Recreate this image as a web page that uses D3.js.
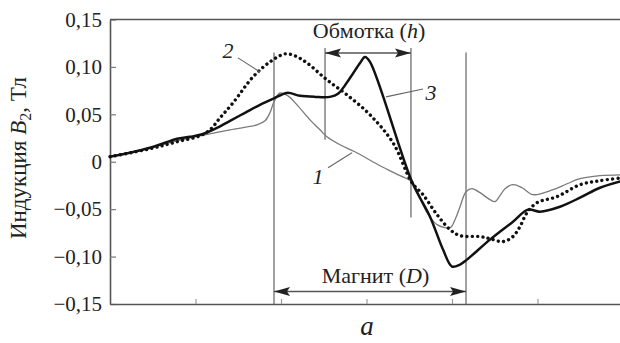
<!DOCTYPE html>
<html><head><meta charset="utf-8">
<script src="https://cdn.jsdelivr.net/npm/d3@7"></script>
<style>
body{margin:0;background:#fff}
svg{display:block;background:#fff}
</style></head>
<body><svg id="c" width="620" height="343"></svg>
<script>
// ---- data (x in tick units, y in Tesla) ----
const xCurve1 = [0,0.468,0.784,1.053,1.404,1.719,1.813,1.871,1.918,1.988,2.082,2.187,2.339,2.456,2.538,2.690,2.865,3.158,3.392,3.532,3.626,3.708,3.825,3.977,4.035,4.094,4.164,4.234,4.327,4.444,4.503,4.561,4.620,4.713,4.819,4.947,5.181,5.345,5.497,5.731,6.000];
const yCurve1 = [0.0053,0.0147,0.0221,0.0274,0.0337,0.0389,0.0432,0.0516,0.0632,0.0726,0.0695,0.0600,0.0442,0.0337,0.0263,0.0179,0.0105,-0.0042,-0.0147,-0.0211,-0.0379,-0.0537,-0.0663,-0.0695,-0.0611,-0.0474,-0.0316,-0.0284,-0.0326,-0.0400,-0.0421,-0.0358,-0.0284,-0.0242,-0.0274,-0.0347,-0.0295,-0.0232,-0.0179,-0.0147,-0.0137];

const xCurve2 = [0,0.468,0.784,1.053,1.170,1.287,1.439,1.673,1.871,2.047,2.164,2.304,2.538,2.772,3.041,3.310,3.532,3.661,3.825,3.977,4.094,4.327,4.444,4.596,4.713,4.795,4.877,4.994,5.228,5.497,5.731,6.000];
const yCurve2 = [0.0053,0.0137,0.0211,0.0274,0.0337,0.0463,0.0621,0.0895,0.1053,0.1137,0.1116,0.1042,0.0863,0.0705,0.0495,0.0200,-0.0221,-0.0347,-0.0558,-0.0716,-0.0779,-0.0789,-0.0811,-0.0842,-0.0789,-0.0684,-0.0537,-0.0432,-0.0368,-0.0242,-0.0200,-0.0168];

const xCurve3 = [0,0.234,0.468,0.643,0.784,0.936,1.053,1.228,1.404,1.579,1.754,1.906,2.070,2.222,2.398,2.573,2.667,2.807,2.924,2.982,3.041,3.532,3.743,3.895,4.000,4.094,4.175,4.444,4.713,4.889,5.029,5.263,5.497,5.731,6.000];
const yCurve3 = [0.0053,0.0095,0.0147,0.0200,0.0242,0.0263,0.0284,0.0347,0.0432,0.0516,0.0600,0.0663,0.0726,0.0695,0.0684,0.0684,0.0716,0.0884,0.1042,0.1105,0.1053,-0.0211,-0.0579,-0.0926,-0.1105,-0.1084,-0.1032,-0.0821,-0.0632,-0.0505,-0.0526,-0.0474,-0.0379,-0.0274,-0.0200];

const yTickValues = [0.15,0.10,0.05,0,-0.05,-0.10,-0.15];
const xTickValues = [1,2,3,4,5];

const magnetX = [1.918, 4.164];
const magnetTop = 0.1152;
const magnetArrowY = -0.1368;
const magnetLabel = "Магнит";
const windingX = [2.515, 3.520];
const windingTop = 0.12;
const windingBottom = [0.0232, -0.0589];
const windingArrowY = 0.1147;
const windingLabel = "Обмотка";

const curveLabels = ["1","2","3"];
const curveLabelPos = [[2.433,-0.0232],[1.380,0.1095],[3.754,0.0653]];
const leaderLines = [[[2.550,-0.0063],[2.830,0.0095]],[[1.497,0.1095],[1.754,0.0947]],[[3.228,0.0684],[3.661,0.0768]]];

// ---- chart ----
const SERIF = "Liberation Serif";
const svg = d3.select("#c");
const x = d3.scaleLinear().domain([0,6]).range([110,623]);
const y = d3.scaleLinear().domain([-0.15,0.15]).range([304,19.5]);

const fmt = v => v === 0 ? "0" : d3.format(".2f")(v).replace(".", ",");

// annotations: vertical lines
const vcol = "#8a8a8a";
magnetX.forEach(v => svg.append("line").attr("x1",x(v)).attr("x2",x(v)).attr("y1",y(magnetTop)).attr("y2",y(-0.15))
  .attr("stroke",vcol).attr("stroke-width",1.6));
windingX.forEach((v,i) => svg.append("line").attr("x1",x(v)).attr("x2",x(v)).attr("y1",y(windingTop)).attr("y2",y(windingBottom[i]))
  .attr("stroke",vcol).attr("stroke-width",1.6));

// axes
const yAxis = d3.axisLeft(y).tickValues(yTickValues).tickSize(-6).tickSizeOuter(0).tickPadding(8).tickFormat(fmt);
const gy = svg.append("g").attr("transform","translate(110,0)").call(yAxis).attr("font-family",SERIF);
gy.select(".domain").attr("stroke","#555").attr("stroke-width",1.6);
gy.selectAll(".tick line").attr("stroke","#777").attr("stroke-width",1.2);
gy.selectAll(".tick text").attr("font-size",21).attr("fill","#222").style("font-family",SERIF);

const xAxis = d3.axisBottom(x).tickValues(xTickValues).tickSize(-5).tickSizeOuter(0).tickFormat("");
const gx = svg.append("g").attr("transform","translate(0,304)").call(xAxis);
gx.select(".domain").attr("stroke","#555").attr("stroke-width",1.6);
gx.selectAll(".tick line").attr("stroke","#999").attr("stroke-width",1.2);

svg.append("line").attr("x1",x(0)).attr("x2",x(6)).attr("y1",y(0.15)).attr("y2",y(0.15))
  .attr("stroke","#555").attr("stroke-width",1.6);

// curves
const line = d3.line().x(d=>x(d[0])).y(d=>y(d[1])).curve(d3.curveCatmullRom.alpha(0.5));
const c1 = d3.zip(xCurve1,yCurve1), c2 = d3.zip(xCurve2,yCurve2), c3 = d3.zip(xCurve3,yCurve3);
svg.append("path").attr("d",line(c1)).attr("fill","none").attr("stroke","#7a7a7a").attr("stroke-width",1.3);
svg.append("path").attr("d",line(c2)).attr("fill","none").attr("stroke","#111").attr("stroke-width",3.4)
  .attr("stroke-linecap","round").attr("stroke-dasharray","0.01 5.3");
svg.append("path").attr("d",line(c3)).attr("fill","none").attr("stroke","#111").attr("stroke-width",2.5)
  .attr("stroke-linejoin","round");

// arrows
const defs = svg.append("defs");
defs.append("marker").attr("id","ah").attr("viewBox","0 -5 16 10").attr("refX",16).attr("refY",0)
  .attr("markerWidth",16).attr("markerHeight",10).attr("markerUnits","userSpaceOnUse").attr("orient","auto-start-reverse")
  .append("path").attr("d","M0,-4.5L16,0L0,4.5L3,0Z").attr("fill","#222");
svg.append("line").attr("x1",x(windingX[0])).attr("x2",x(windingX[1])).attr("y1",y(windingArrowY)).attr("y2",y(windingArrowY))
  .attr("stroke","#555").attr("stroke-width",1.3).attr("marker-start","url(#ah)").attr("marker-end","url(#ah)");
svg.append("line").attr("x1",x(magnetX[0])).attr("x2",x(magnetX[1])).attr("y1",y(magnetArrowY)).attr("y2",y(magnetArrowY))
  .attr("stroke","#555").attr("stroke-width",1.3).attr("marker-start","url(#ah)").attr("marker-end","url(#ah)");

// labels
function label(txt, sym, cx, by){
  const t = svg.append("text").attr("x",cx).attr("y",by).attr("text-anchor","middle").attr("font-size",22)
    .style("font-family",SERIF).attr("fill","#222");
  t.append("tspan").text(txt + " (");
  t.append("tspan").attr("font-style","italic").text(sym);
  t.append("tspan").text(")");
}
label(windingLabel, "h", x(3.03), y(0.1305));
label(magnetLabel, "D", x(3.105), y(-0.1274));

curveLabels.forEach((s,i)=>{
  svg.append("text").attr("x",x(curveLabelPos[i][0])).attr("y",y(curveLabelPos[i][1])).attr("text-anchor","middle")
    .attr("font-size",22).attr("font-style","italic").style("font-family",SERIF).attr("fill","#222").text(s);
  const L = leaderLines[i];
  svg.append("line").attr("x1",x(L[0][0])).attr("y1",y(L[0][1])).attr("x2",x(L[1][0])).attr("y2",y(L[1][1]))
    .attr("stroke","#666").attr("stroke-width",1.1);
});

// axis titles
svg.append("text").attr("x",367).attr("y",335).attr("text-anchor","middle").attr("font-size",27).attr("font-style","italic")
  .style("font-family",SERIF).attr("fill","#222").text("a");
const yt = svg.append("text").attr("transform","translate(26,158) rotate(-90)").attr("text-anchor","middle").attr("font-size",23)
  .style("font-family",SERIF).attr("fill","#222");
yt.append("tspan").text("Индукция ");
yt.append("tspan").attr("font-style","italic").text("B");
yt.append("tspan").attr("font-size",16).attr("dy",5).text("2");
yt.append("tspan").attr("dy",-5).text(", Тл");
</script>
</body></html>
